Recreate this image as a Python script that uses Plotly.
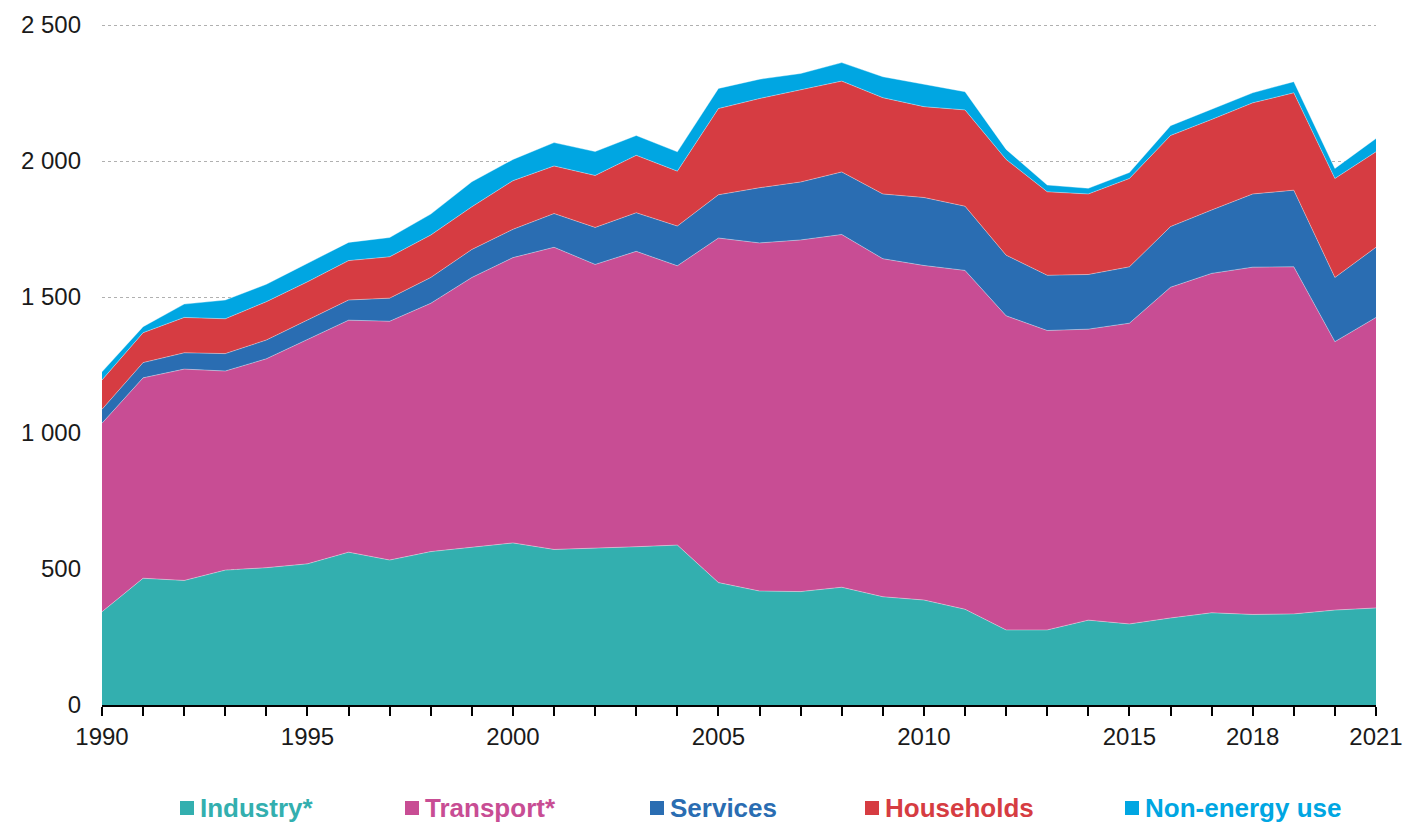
import plotly.graph_objects as go

years = list(range(1990, 2022))

industry = [343, 466, 458, 496, 505, 519, 562, 533, 564, 580, 596, 572, 576, 582, 588,
            450, 419, 417, 433, 398, 386, 352, 276, 276, 312, 298, 320, 339, 333, 335, 349, 357]
transport = [693, 737, 777, 732, 768, 825, 853, 878, 913, 992, 1049, 1111, 1044, 1086, 1027,
             1267, 1280, 1293, 1297, 1243, 1230, 1246, 1155, 1101, 1070, 1106, 1216, 1248, 1277, 1276, 987, 1068]
services = [51, 56, 60, 64, 69, 71, 74, 85, 95, 103, 104, 124, 136, 142, 146,
            159, 203, 213, 230, 238, 250, 236, 223, 203, 201, 207, 223, 233, 269, 282, 236, 258]
households = [108, 110, 130, 128, 141, 141, 145, 152, 156, 157, 179, 175, 191, 211, 202,
              317, 328, 338, 334, 354, 334, 354, 352, 307, 296, 325, 335, 333, 335, 358, 364, 351]
non_energy = [30, 22, 49, 69, 64, 68, 67, 71, 77, 92, 78, 86, 88, 73, 71,
              74, 71, 61, 68, 77, 82, 67, 37, 25, 21, 22, 36, 37, 37, 41, 37, 49]

series_names = ["Industry*", "Transport*", "Services", "Households", "Non-energy use"]
series_values = [industry, transport, services, households, non_energy]
colors = ["#33AFAF", "#C84D94", "#2A6DB2", "#D63C42", "#00A6E2"]

y_tickvals = [0, 500, 1000, 1500, 2000, 2500]
y_ticktext = ["0", "500", "1 000", "1 500", "2 000", "2 500"]
x_labeled = [1990, 1995, 2000, 2005, 2010, 2015, 2018, 2021]

FONT = "Liberation Sans, Arial, sans-serif"

fig = go.Figure()
for name, vals, col in zip(series_names, series_values, colors):
    fig.add_trace(go.Scatter(
        x=years, y=vals, name=name, mode="lines", stackgroup="one",
        line=dict(color="rgba(255,255,255,0.45)", width=0.8),
        fillcolor=col, showlegend=False, hoverinfo="x+y+name",
    ))

W, H = 1407, 823
L, R, T, B = 102, 31, 24, 118
pw, ph = W - L - R, H - T - B

def px_x(p):
    return (p - L) / pw

def px_y(p):
    return (H - B - p) / ph

legend_left = [180, 405, 650, 865, 1125]
shapes, annotations = [], []
for name, col, lx in zip(series_names, colors, legend_left):
    shapes.append(dict(type="rect", xref="paper", yref="paper",
                       x0=px_x(lx), x1=px_x(lx + 14), y0=px_y(815), y1=px_y(801),
                       fillcolor=col, line=dict(width=0)))
    annotations.append(dict(text="<b>" + name + "</b>", xref="paper", yref="paper",
                            x=px_x(lx + 18), y=px_y(808), xanchor="left", yanchor="middle",
                            showarrow=False, font=dict(family=FONT, size=26, color=col)))

fig.update_layout(
    width=W, height=H,
    margin=dict(l=L, r=R, t=T, b=B, autoexpand=False),
    paper_bgcolor="white", plot_bgcolor="white",
    font=dict(family=FONT, size=24, color="#1a1a1a"),
    shapes=shapes, annotations=annotations,
    xaxis=dict(
        range=[1990, 2021], tickvals=years,
        ticktext=[str(y) if y in x_labeled else "" for y in years],
        ticks="outside", ticklen=9, tickwidth=1.5, tickcolor="black",
        showline=True, linecolor="black", linewidth=2,
        showgrid=False, zeroline=False, automargin=False,
        tickfont=dict(family=FONT, size=24, color="#1a1a1a"),
    ),
    yaxis=dict(
        range=[0, 2504], tickvals=y_tickvals, ticktext=y_ticktext,
        showgrid=True, gridcolor="#b0b0b0", gridwidth=1, griddash="dot",
        zeroline=False, showline=False, ticks="", ticklabelstandoff=20,
        automargin=False,
        tickfont=dict(family=FONT, size=24, color="#1a1a1a"),
    ),
)

fig.write_html(
    "out.html",
    config={"displayModeBar": False},
    post_script="document.body.style.margin='0';document.body.style.overflow='hidden';",
)
